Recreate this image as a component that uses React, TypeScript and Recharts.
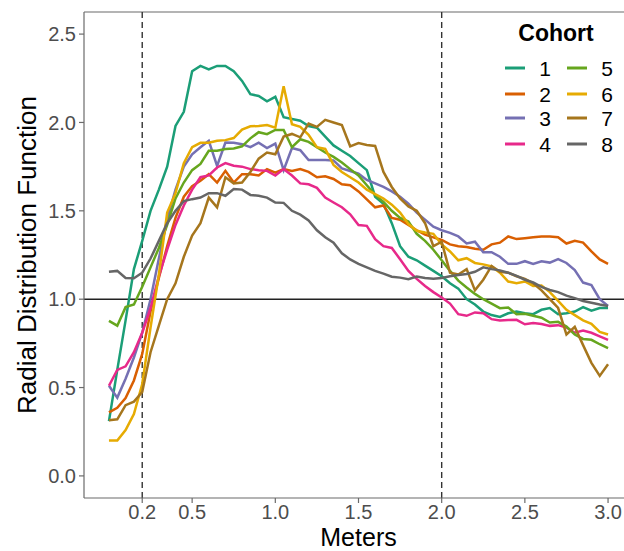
import { LineChart, Line, XAxis, YAxis, ReferenceLine, Legend } from "recharts";

// distance bins (m)
const meters = [
  0.0, 0.05, 0.1, 0.15, 0.2, 0.25, 0.3, 0.35, 0.4, 0.45, 0.5, 0.55, 0.6, 0.65, 0.7, 0.75,
  0.8, 0.85, 0.9, 0.95, 1.0, 1.05, 1.1, 1.15, 1.2, 1.25, 1.3, 1.35, 1.4, 1.45, 1.5, 1.55,
  1.6, 1.65, 1.7, 1.75, 1.8, 1.85, 1.9, 1.95, 2.0, 2.05, 2.1, 2.15, 2.2, 2.25, 2.3, 2.35,
  2.4, 2.45, 2.5, 2.55, 2.6, 2.65, 2.7, 2.75, 2.8, 2.85, 2.9, 2.95, 3.0,
];

const cohort1 = [
  0.31, 0.6, 0.88, 1.17, 1.33, 1.5, 1.62, 1.75, 1.98, 2.06, 2.29, 2.32, 2.3, 2.32, 2.32, 2.29,
  2.235, 2.16, 2.15, 2.12, 2.145, 2.03, 2.02, 2.01, 1.98, 1.97, 1.92, 1.87, 1.84, 1.81, 1.77,
  1.73, 1.58, 1.54, 1.43, 1.3, 1.24, 1.22, 1.19, 1.16, 1.13, 1.09, 1.06, 1.0, 0.97, 0.93, 0.91,
  0.9, 0.92, 0.93, 0.92, 0.915, 0.94, 0.95, 0.915, 0.92, 0.93, 0.955, 0.935, 0.95, 0.95,
];
const cohort2 = [
  0.36, 0.385, 0.44, 0.54, 0.69, 0.93, 1.12, 1.3, 1.46, 1.58, 1.64, 1.67, 1.707, 1.66, 1.726,
  1.66, 1.707, 1.707, 1.7, 1.736, 1.716, 1.736, 1.726, 1.736, 1.72, 1.69, 1.695, 1.68, 1.65,
  1.645, 1.61, 1.565, 1.52, 1.53, 1.46, 1.45, 1.42, 1.39, 1.365, 1.35, 1.335, 1.31, 1.3, 1.295,
  1.285, 1.28, 1.31, 1.32, 1.355, 1.34, 1.345, 1.35, 1.355, 1.355, 1.35, 1.315, 1.33, 1.32,
  1.27, 1.225, 1.2,
];
const cohort3 = [
  0.51, 0.443, 0.55, 0.67, 0.81, 1.0, 1.23, 1.45, 1.62, 1.75, 1.82, 1.86, 1.896, 1.754, 1.886,
  1.885, 1.877, 1.86, 1.886, 1.855, 1.88, 1.73, 1.855, 1.843, 1.787, 1.787, 1.787, 1.785, 1.74,
  1.725, 1.71, 1.675, 1.655, 1.635, 1.61, 1.58, 1.54, 1.49, 1.45, 1.41, 1.39, 1.375, 1.355,
  1.315, 1.325, 1.265, 1.266, 1.24, 1.2, 1.2, 1.215, 1.2, 1.215, 1.207, 1.227, 1.205, 1.165,
  1.094, 1.08, 1.0, 0.962,
];
const cohort4 = [
  0.51, 0.6, 0.62, 0.7, 0.81, 0.95, 1.13, 1.28, 1.42, 1.53, 1.62, 1.69, 1.7, 1.745, 1.77, 1.755,
  1.75, 1.736, 1.73, 1.726, 1.7, 1.736, 1.7, 1.655, 1.65, 1.63, 1.575, 1.547, 1.52, 1.48, 1.42,
  1.415, 1.34, 1.3, 1.29, 1.226, 1.16, 1.115, 1.075, 1.04, 1.01, 0.975, 0.915, 0.906, 0.925,
  0.92, 0.887, 0.88, 0.882, 0.883, 0.858, 0.865, 0.86, 0.849, 0.853, 0.84, 0.81, 0.822, 0.81,
  0.79, 0.77,
];
const cohort5 = [
  0.877, 0.85, 0.955, 0.97, 1.07, 1.18, 1.29, 1.42, 1.57, 1.66, 1.73, 1.765, 1.84, 1.84, 1.85,
  1.853, 1.865, 1.91, 1.945, 1.934, 1.958, 1.958, 1.86, 1.905, 1.89, 1.86, 1.83, 1.805, 1.773,
  1.736, 1.7, 1.645, 1.59, 1.55, 1.5, 1.46, 1.44, 1.37, 1.33, 1.28, 1.22, 1.16, 1.105, 1.066,
  1.03, 1.0, 0.975, 0.949, 0.953, 0.915, 0.917, 0.906, 0.895, 0.868, 0.872, 0.845, 0.8, 0.775,
  0.77, 0.745, 0.723,
];
const cohort6 = [
  0.2, 0.2, 0.26, 0.35, 0.52, 0.84, 1.14, 1.49, 1.6, 1.77, 1.86, 1.885, 1.885, 1.896, 1.9, 1.912,
  1.96, 1.978, 1.98, 1.985, 1.97, 2.205, 1.99, 1.975, 1.93, 1.86, 1.85, 1.76, 1.72, 1.69, 1.66,
  1.62, 1.595, 1.57, 1.535, 1.49, 1.425, 1.387, 1.377, 1.37, 1.31, 1.27, 1.22, 1.232, 1.205,
  1.197, 1.185, 1.15, 1.1, 1.09, 1.1, 1.075, 1.077, 1.04, 0.99, 0.94, 0.91, 0.88, 0.86, 0.815,
  0.8,
];
const cohort7 = [
  0.315, 0.32, 0.4, 0.42, 0.475, 0.7, 0.85, 1.0, 1.09, 1.24, 1.36, 1.43, 1.575, 1.52, 1.69,
  1.655, 1.66, 1.72, 1.795, 1.83, 1.82, 1.92, 1.935, 1.916, 1.994, 1.975, 2.015, 2.0, 1.985,
  1.865, 1.883, 1.873, 1.867, 1.72, 1.635, 1.57, 1.525, 1.5, 1.43, 1.3, 1.325, 1.15, 1.14, 1.17,
  1.05, 1.11, 1.188, 1.155, 1.15, 1.13, 1.115, 1.09, 1.05, 1.0, 0.95, 0.8, 0.843, 0.74, 0.64,
  0.566, 0.632,
];
const cohort8 = [
  1.155, 1.16, 1.12, 1.118, 1.15, 1.23, 1.33, 1.43, 1.5, 1.555, 1.566, 1.575, 1.6, 1.6, 1.585,
  1.623, 1.62, 1.59, 1.585, 1.575, 1.547, 1.545, 1.5, 1.478, 1.445, 1.39, 1.35, 1.32, 1.26,
  1.225, 1.2, 1.18, 1.16, 1.145, 1.127, 1.122, 1.113, 1.128, 1.12, 1.115, 1.12, 1.13, 1.137,
  1.143, 1.155, 1.18, 1.17, 1.163, 1.15, 1.132, 1.11, 1.095, 1.07, 1.052, 1.04, 1.02, 1.006,
  0.99, 0.98, 0.97, 0.962,
];

const cohorts = ["1", "2", "3", "4", "5", "6", "7", "8"];
const cohortValues = [cohort1, cohort2, cohort3, cohort4, cohort5, cohort6, cohort7, cohort8];
// RColorBrewer Dark2
const colors = ["#1B9E77", "#D95F02", "#7570B3", "#E7298A", "#66A61E", "#E6AB02", "#A6761D", "#666666"];

const xTicks = [0.2, 0.5, 1.0, 1.5, 2.0, 2.5, 3.0];
const yTicks = [0.0, 0.5, 1.0, 1.5, 2.0, 2.5];
const cutoffs = [0.2, 2.0];

const data = meters.map((m, i) => {
  const row: Record<string, number> = { meters: m };
  cohortValues.forEach((vals, k) => {
    row["c" + cohorts[k]] = vals[i];
  });
  return row;
});

const FONT = "'Liberation Sans', Arial, Helvetica, sans-serif";
const axisGray = "#6b6b6b";

function CohortLegend() {
  const rows = [54, 80, 104, 130];
  return (
    <svg width={124} height={150} style={{ fontFamily: FONT }}>
      <text x={56} y={27} textAnchor="middle" fontSize={23} fontWeight="bold" fill="#000">
        Cohort
      </text>
      {cohorts.map((name, k) => {
        const col = k < 4 ? 0 : 1;
        const cy = rows[k % 4];
        const x0 = col === 0 ? 5 : 67;
        return (
          <g key={name}>
            <line x1={x0} x2={x0 + 20} y1={cy} y2={cy} stroke={colors[k]} strokeWidth={3} />
            <text x={x0 + 40} y={cy + 7.5} textAnchor="middle" fontSize={21} fill="#000">
              {name}
            </text>
          </g>
        );
      })}
    </svg>
  );
}

function YTitle(props: any) {
  const vb = props.viewBox || { y: 12, height: 486 };
  const cy = vb.y + vb.height / 2;
  return (
    <text
      x={27}
      y={cy}
      transform={`rotate(-90 27 ${cy})`}
      textAnchor="middle"
      dominantBaseline="central"
      fontSize={26}
      fontFamily={FONT}
      fill="#000"
    >
      Radial Distribution Function
    </text>
  );
}

function XTitle(props: any) {
  const vb = props.viewBox || { x: 84, width: 549, y: 498, height: 53 };
  return (
    <text
      x={vb.x + vb.width / 2}
      y={vb.y + vb.height - 5}
      textAnchor="middle"
      fontSize={25}
      fontFamily={FONT}
      fill="#000"
    >
      Meters
    </text>
  );
}

export default function App() {
  const tickStyle = { fill: "#4d4d4d", fontSize: 20, fontFamily: FONT };
  return (
    <div
      style={{
        position: "absolute",
        left: 0,
        top: 0,
        width: 624,
        height: 551,
        overflow: "hidden",
        background: "#fff",
      }}
    >
      <LineChart width={650} height={551} data={data} margin={{ top: 12, right: 17, left: 0, bottom: 0 }}>
        <XAxis
          dataKey="meters"
          type="number"
          domain={[-0.15, 3.15]}
          ticks={xTicks}
          tickFormatter={(v: number) => v.toFixed(1)}
          tick={tickStyle}
          tickSize={5}
          tickMargin={2}
          height={53}
          axisLine={{ stroke: axisGray, strokeWidth: 1.2 }}
          tickLine={{ stroke: axisGray, strokeWidth: 1.2 }}
          allowDataOverflow
          interval={0}
          label={<XTitle />}
        />
        <YAxis
          type="number"
          domain={[-0.125, 2.625]}
          ticks={yTicks}
          tickFormatter={(v: number) => v.toFixed(1)}
          tick={tickStyle}
          tickSize={5}
          tickMargin={3}
          width={84}
          axisLine={{ stroke: axisGray, strokeWidth: 1.2 }}
          tickLine={{ stroke: axisGray, strokeWidth: 1.2 }}
          allowDataOverflow
          interval={0}
          label={<YTitle />}
        />
        {/* panel border (top) */}
        <ReferenceLine y={2.625} stroke={axisGray} strokeWidth={1.2} />
        {cutoffs.map((c) => (
          <ReferenceLine key={c} x={c} stroke="#333" strokeWidth={1.4} strokeDasharray="6 4" />
        ))}
        <ReferenceLine y={1} stroke="#222" strokeWidth={1.4} />
        {cohorts.map((name, k) => (
          <Line
            key={name}
            type="linear"
            dataKey={"c" + name}
            name={name}
            stroke={colors[k]}
            strokeWidth={2.5}
            dot={false}
            activeDot={false}
            isAnimationActive={false}
          />
        ))}
        <Legend
          layout="horizontal"
          verticalAlign="middle"
          align="center"
          wrapperStyle={{ top: 14, left: 500, width: 124, height: 150 }}
          content={() => <CohortLegend />}
        />
      </LineChart>
    </div>
  );
}
